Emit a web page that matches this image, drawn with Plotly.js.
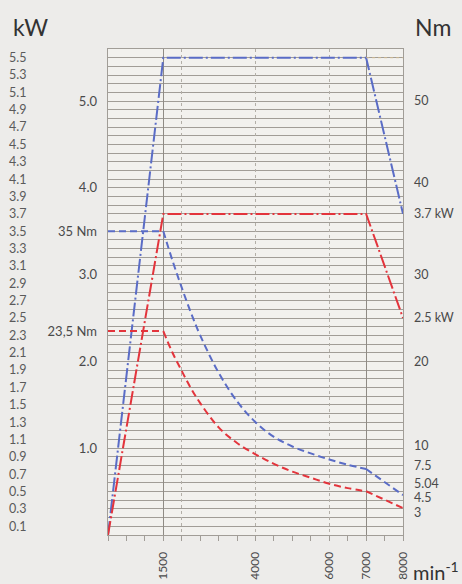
<!DOCTYPE html>
<html>
<head>
<meta charset="utf-8">
<script src="https://cdn.plot.ly/plotly-3.0.1.min.js"></script>
<style>html,body{margin:0;padding:0;background:#edecea;}#chart{width:462px;height:584px;}</style>
</head>
<body>
<div id="chart"></div>
<script>
// ---- data ----
const rpmPower = [0, 1500, 7000, 8000];
const powerBlueKW = [0, 5.5, 5.5, 3.7];
const powerRedKW = [0, 3.7, 3.7, 2.5];

const rpmTorque = [0, 1500, 1750, 2000, 2250, 2500, 3000, 3500, 4000, 4500, 5000, 5500, 6000, 6500, 7000, 8000];
const torqueBlueNm = [35, 35, 31.6, 28.5, 25.6, 23.0, 18.7, 15.4, 13.0, 11.3, 10.2, 9.4, 8.7, 8.1, 7.6, 4.6];
const torqueRedNm = [23.5, 23.5, 21.0, 18.9, 16.9, 15.2, 12.4, 10.6, 9.3, 8.2, 7.3, 6.6, 5.9, 5.4, 5.04, 3.1];

const rpmTickLabels = {1500: '1500', 4000: '4000', 6000: '6000', 7000: '7000', 8000: '8000'};
const kwTickLabels = ['0.1','0.3','0.5','0.7','0.9','1.1','1.3','1.5','1.7','1.9','2.1','2.3','2.5','2.7','2.9','3.1','3.3','3.5','3.7','3.9','4.1','4.3','4.5','4.7','4.9','5.1','5.3','5.5'];
const kwMidVals = [1, 2, 2.35, 3, 3.5, 4, 5];
const kwMidText = ['1.0', '2.0', '23,5 Nm', '3.0', '35 Nm', '4.0', '5.0'];
const nmVals = [50, 40, 37, 30, 25, 20, 10, 7.5, 5.04, 4.5, 3];
const nmText = ['50', '40', '3.7 kW', '30', '2.5 kW', '20', '10', '7.5', '5.04', '4.5', '3'];

// ---- layout helpers ----
const nmNudge = {7.5: 0.45, 5.04: 0.9, 4.5: -0.2, 3: -0.45, 10: 0.3, 40: 0.6};
const xTickVals = [], xTickText = [];
for (let r = 0; r <= 8000; r += 500) { xTickVals.push(r); xTickText.push(rpmTickLabels[r] || ' '); }
const yGridVals = [], yGridText = [];
for (let k = 1; k <= 55; k++) {
  yGridVals.push(k / 10);
  yGridText.push(k % 2 === 1 ? kwTickLabels[(k - 1) / 2] : ' ');
}

const BLUE = '#5a6cc6', RED = '#e3343c', GRID = '#a19d97';
const FONT = 'Lato, "DejaVu Sans", sans-serif';
const TORQUE_DASH = '7px,4px', POWER_DASH = '14px,3px,2px,3px';

const traces = [
  {x: rpmPower, y: powerBlueKW, mode: 'lines', xaxis: 'x', yaxis: 'y',
   line: {color: BLUE, width: 2, dash: POWER_DASH}, hoverinfo: 'skip'},
  {x: rpmPower, y: powerRedKW, mode: 'lines', xaxis: 'x', yaxis: 'y',
   line: {color: RED, width: 2, dash: POWER_DASH}, hoverinfo: 'skip'}
];
// torque: flat part, smooth curved part (1500-7000), straight tail (7000-8000)
function torqueTraces(vals, color) {
  const n = rpmTorque.length;
  const parts = [[0, 2, 'linear'], [1, n - 1, 'spline'], [n - 2, n, 'linear']];
  parts.forEach(([a, b, shape]) => {
    traces.push({x: rpmTorque.slice(a, b), y: vals.slice(a, b), mode: 'lines', xaxis: 'x', yaxis: 'y3',
      line: {color: color, width: 2, dash: TORQUE_DASH, shape: shape, smoothing: 1}, hoverinfo: 'skip'});
  });
}
torqueTraces(torqueBlueNm, BLUE);
torqueTraces(torqueRedNm, RED);

const layout = {
  width: 462, height: 584,
  margin: {l: 108, r: 59, t: 49, b: 49},
  paper_bgcolor: '#edecea', plot_bgcolor: '#f2f1ee',
  showlegend: false,
  font: {family: FONT, color: '#4a4a4a'},
  xaxis: {
    range: [0, 8000], tickvals: xTickVals, ticktext: xTickText, tickangle: -90,
    ticks: 'outside', ticklen: 5, tickcolor: GRID, tickwidth: 1,
    showgrid: false, zeroline: false, showline: true, mirror: true, linecolor: GRID, linewidth: 1,
    tickfont: {size: 12, color: '#4a4a4a'}, ticklabelstandoff: 6, fixedrange: true
  },
  xaxis2: {overlaying: 'x', range: [0, 8000], tickvals: [1500, 7000], showticklabels: false,
    showgrid: true, gridcolor: '#8f8b85', gridwidth: 1, zeroline: false, ticks: ''},
  xaxis3: {overlaying: 'x', range: [0, 8000], tickvals: [2000, 4000, 6000], showticklabels: false,
    showgrid: true, gridcolor: '#b3afa8', gridwidth: 1, griddash: 'dot', zeroline: false, ticks: ''},
  yaxis: {
    range: [0, 5.6], tickvals: yGridVals, ticktext: yGridText, showgrid: true, gridcolor: GRID, gridwidth: 1,
    zeroline: false, showline: true, mirror: true, linecolor: GRID, ticks: '',
    tickfont: {size: 12.5, color: '#5a5a5a'}, ticklabelstandoff: 78, fixedrange: true
  },
  yaxis2: {
    overlaying: 'y', side: 'left', range: [0, 5.6], tickvals: kwMidVals, ticktext: kwMidText,
    showgrid: false, zeroline: false, ticks: '', tickfont: {size: 13, color: '#4a4a4a'}, ticklabelstandoff: 10
  },
  yaxis3: {
    overlaying: 'y', side: 'right', range: [0, 56],
    tickvals: nmVals.map(v => v + (nmNudge[v] || 0)), ticktext: nmText,
    showgrid: false, zeroline: false, ticks: '', tickfont: {size: 12.5, color: '#4a4a4a'}, ticklabelstandoff: 10
  },
  shapes: [
    {type: 'line', xref: 'x', yref: 'y', x0: 7000, x1: 8000, y0: 5.5, y1: 5.5,
     line: {color: '#cdb890', width: 1, dash: 'dot'}}
  ],
  annotations: [
    {text: 'kW', xref: 'paper', yref: 'paper', x: -0.33, y: 1.045, xanchor: 'left', yanchor: 'middle',
     showarrow: false, font: {size: 23, color: '#333'}},
    {text: 'Nm', xref: 'paper', yref: 'paper', x: 1.035, y: 1.045, xanchor: 'left', yanchor: 'middle',
     showarrow: false, font: {size: 23, color: '#333'}},
    {text: 'min<sup>-1</sup>', xref: 'paper', yref: 'paper', x: 1.027, y: -0.074, xanchor: 'left', yanchor: 'middle',
     showarrow: false, font: {size: 20, color: '#333'}}
  ]
};

// invisible helpers so the overlay axes (used only for grid lines) are drawn
traces.push({x: [0], y: [0], xaxis: 'x2', yaxis: 'y2', mode: 'markers', marker: {opacity: 0}, hoverinfo: 'skip'});
traces.push({x: [0], y: [0], xaxis: 'x3', yaxis: 'y', mode: 'markers', marker: {opacity: 0}, hoverinfo: 'skip'});

Plotly.newPlot('chart', traces, layout, {displayModeBar: false, staticPlot: true});
</script>
</body>
</html>
